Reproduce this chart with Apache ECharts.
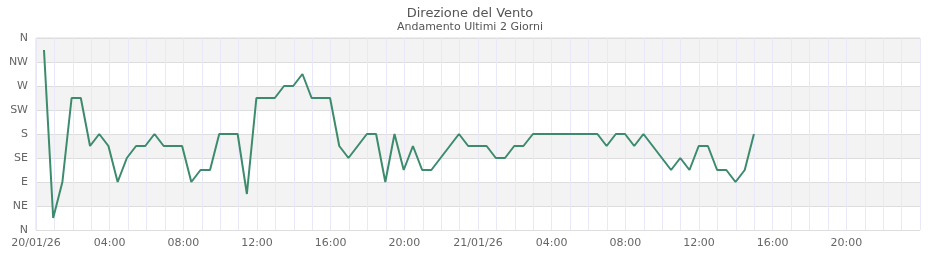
<!DOCTYPE html>
<html><head><meta charset="utf-8">
<script src="https://cdn.jsdelivr.net/npm/echarts@6/dist/echarts.min.js"></script>
<style>html,body{margin:0;padding:0;background:#fff}#c{width:940px;height:260px}</style>
</head><body><div id="c"></div>
<script>
const titleText = 'Direzione del Vento';
const subtitleText = 'Andamento Ultimi 2 Giorni';
const dirLabels = ['N','NE','E','SE','S','SW','W','NW','N'];
const dateLabels = ['20/01/26','21/01/26'];
const times = [
 '20 00:26','20 00:56','20 01:26','20 01:56','20 02:26','20 02:56','20 03:26','20 03:56',
 '20 04:26','20 04:56','20 05:26','20 05:56','20 06:26','20 06:56','20 07:26','20 07:56',
 '20 08:26','20 08:56','20 09:27','20 09:57','20 10:27','20 10:57','20 11:27','20 11:58',
 '20 12:28','20 12:58','20 13:28','20 13:58','20 14:28','20 14:58','20 15:28','20 15:58',
 '20 16:28','20 16:58','20 17:28','20 17:58','20 18:28','20 18:58','20 19:28','20 19:58',
 '20 20:28','20 20:58','20 21:28','20 21:58','20 22:28','20 22:58','20 23:28','20 23:58',
 '21 00:28','21 00:58','21 01:28','21 01:58','21 02:28','21 02:59','21 03:29','21 03:59',
 '21 04:29','21 04:59','21 05:29','21 05:59','21 06:29','21 06:59','21 07:29','21 07:59',
 '21 08:29','21 08:59','21 09:29','21 09:59','21 10:29','21 10:59','21 11:29','21 11:59',
 '21 12:29','21 12:59','21 13:29','21 13:59','21 14:29','21 14:59'
];
const directions = [
 337.5, 22.5, 90, 247.5, 247.5, 157.5, 180, 157.5,
 90, 135, 157.5, 157.5, 180, 157.5, 157.5, 157.5,
 90, 112.5, 112.5, 180, 180, 180, 67.5, 247.5,
 247.5, 247.5, 270, 270, 292.5, 247.5, 247.5, 247.5,
 157.5, 135, 157.5, 180, 180, 90, 180, 112.5,
 157.5, 112.5, 112.5, 135, 157.5, 180, 157.5, 157.5,
 157.5, 135, 135, 157.5, 157.5, 180, 180, 180,
 180, 180, 180, 180, 180, 157.5, 180, 180,
 157.5, 180, 157.5, 135, 112.5, 135, 112.5, 157.5,
 157.5, 112.5, 112.5, 90, 112.5, 180
];

function toHours(t){
  const [d, hm] = t.split(' ');
  const [h, m] = hm.split(':').map(Number);
  return (Number(d) - 20) * 24 + h + m / 60;
}
const seriesData = times.map((t, i) => [toHours(t), directions[i]]);
const FONT = 'DejaVu Sans';

const chart = echarts.init(document.getElementById('c'), null, {renderer: 'canvas'});
chart.setOption({
  animation: false,
  backgroundColor: '#fff',
  title: {
    text: titleText, subtext: subtitleText, left: 'center', top: 2, itemGap: 2,
    textStyle: {fontFamily: FONT, fontSize: 13, fontWeight: 'normal', color: '#555'},
    subtextStyle: {fontFamily: FONT, fontSize: 11, color: '#555'}
  },
  grid: {left: 36, right: 20, top: 38, bottom: 30, show: true, borderColor: '#ddd', borderWidth: 1, backgroundColor: 'transparent', containLabel: false},
  xAxis: {
    type: 'value', min: 0, max: 48, interval: 1,
    axisLine: {show: false}, axisTick: {show: false},
    axisLabel: {
      fontFamily: FONT, fontSize: 11, color: '#666', margin: 8, showMaxLabel: false,
      formatter: v => {
        if (v % 4 !== 0 || v >= 48) return '';
        if (v % 24 === 0) return dateLabels[v / 24];
        const h = v % 24;
        return (h < 10 ? '0' : '') + h + ':00';
      }
    },
    splitLine: {show: true, lineStyle: {color: '#e8e8f8', width: 1}}
  },
  yAxis: {
    type: 'value', min: 0, max: 360, interval: 45,
    axisLine: {show: false}, axisTick: {show: false},
    axisLabel: {fontFamily: FONT, fontSize: 11, color: '#666', margin: 8,
      formatter: v => dirLabels[Math.round(v / 45)]},
    splitLine: {show: true, lineStyle: {color: '#ddd', width: 1}},
    splitArea: {show: true, areaStyle: {color: ['#ffffff', '#f3f3f3']}}
  },
  series: [{
    type: 'line', data: seriesData, showSymbol: false, symbol: 'none',
    lineStyle: {color: '#3d8b6d', width: 2}, itemStyle: {color: '#3d8b6d'}
  }]
});
</script></body></html>
